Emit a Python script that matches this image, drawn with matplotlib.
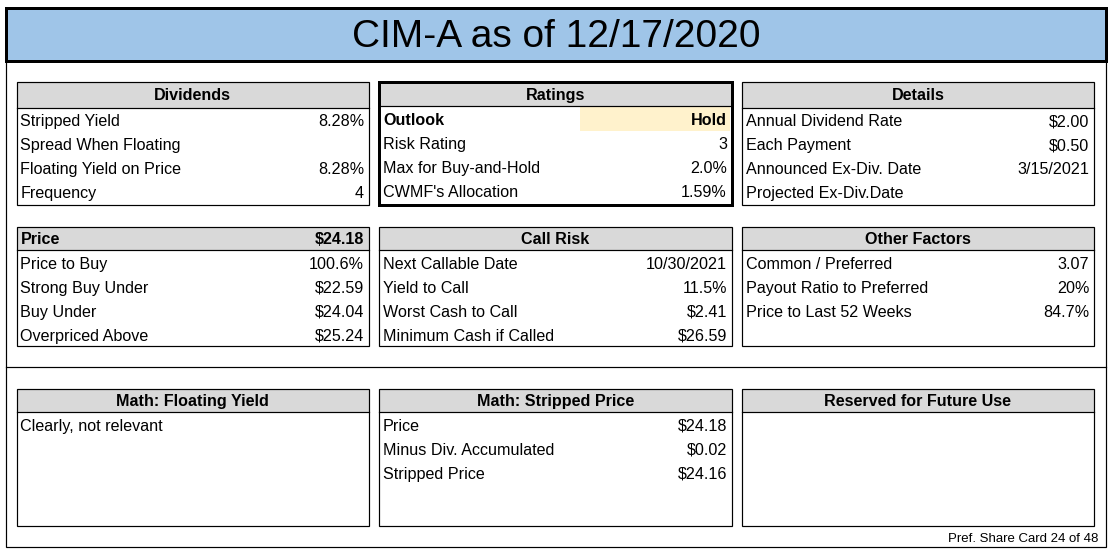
import matplotlib
matplotlib.use("Agg")
import matplotlib.pyplot as plt
from matplotlib.patches import Rectangle

plt.rcParams['font.family'] = ['Liberation Sans', 'DejaVu Sans']

title = "CIM-A as of 12/17/2020"
footer = "Pref. Share Card 24 of 48"

div_labels = ["Stripped Yield", "Spread When Floating", "Floating Yield on Price", "Frequency"]
div_values = ["8.28%", "", "8.28%", "4"]

rat_labels = ["Outlook", "Risk Rating", "Max for Buy-and-Hold", "CWMF's Allocation"]
rat_values = ["Hold", "3", "2.0%", "1.59%"]

det_labels = ["Annual Dividend Rate", "Each Payment", "Announced Ex-Div. Date", "Projected Ex-Div.Date"]
det_values = ["$2.00", "$0.50", "3/15/2021", ""]

price_value = "$24.18"
price_labels = ["Price to Buy", "Strong Buy Under", "Buy Under", "Overpriced Above"]
price_values = ["100.6%", "$22.59", "$24.04", "$25.24"]

call_labels = ["Next Callable Date", "Yield to Call", "Worst Cash to Call", "Minimum Cash if Called"]
call_values = ["10/30/2021", "11.5%", "$2.41", "$26.59"]

oth_labels = ["Common / Preferred", "Payout Ratio to Preferred", "Price to Last 52 Weeks"]
oth_values = ["3.07", "20%", "84.7%"]

mfy_labels = ["Clearly, not relevant"]
mfy_values = [""]

msp_labels = ["Price", "Minus Div. Accumulated", "Stripped Price"]
msp_values = ["$24.18", "$0.02", "$24.16"]

res_labels = []
res_values = []

W, H = 1112, 554
fig = plt.figure(figsize=(W / 100, H / 100), dpi=100)
ax = fig.add_axes([0, 0, 1, 1])
ax.set_xlim(0, W)
ax.set_ylim(H, 0)
ax.axis('off')

PX = 0.72  # 1 px in points
GRAY = '#D9D9D9'
FS = 11.6

# outer frame
ax.add_patch(Rectangle((5.5, 35), 1100, 512, fill=False, ec='black', lw=1.2 * PX))
ax.plot([5.5, 1105.5], [367, 367], color='black', lw=1.2 * PX)
# title
ax.add_patch(Rectangle((5.5, 7.5), 1100, 53.5, fc='#9FC5E8', ec='black', lw=3 * PX, zorder=3))
ax.text(556, 47, title, ha='center', va='baseline', fontsize=28, zorder=4)


def card(x0, x1, y0, y1, hdr_h, header, labels, values, thick=False,
         left_header=None, highlight_first=False):
    ax.add_patch(Rectangle((x0, y0), x1 - x0, hdr_h, fc=GRAY, ec='none', zorder=1))
    ax.plot([x0, x1], [y0 + hdr_h, y0 + hdr_h], color='black', lw=1.2 * PX, zorder=3)
    hb = y0 + hdr_h / 2 + 6
    if left_header is not None:
        ax.text(x0 + 4, hb, header, ha='left', va='baseline',
                fontsize=FS, fontweight='bold', zorder=4)
        ax.text(x1 - 4.5, hb, left_header, ha='right', va='baseline',
                fontsize=FS, fontweight='bold', zorder=4)
    else:
        ax.text((x0 + x1) / 2, hb, header, ha='center', va='baseline',
                fontsize=FS, fontweight='bold', zorder=4)
    for i, (lab, val) in enumerate(zip(labels, values)):
        yc = y0 + hdr_h + 12.5 + 24 * i
        bold = highlight_first and i == 0
        if bold:
            ax.add_patch(Rectangle((580, yc - 11.5), x1 - 580 - 1.5, 24, fc='#FFF2CC',
                                   ec='none', zorder=1))
        ax.text(x0 + 4, yc + 6.2, lab, ha='left', va='baseline', fontsize=FS,
                fontweight='bold' if bold else 'normal', zorder=4)
        if val:
            ax.text(x1 - 4.5, yc + 6.2, val, ha='right', va='baseline', fontsize=FS,
                    fontweight='bold' if bold else 'normal', zorder=4)
    ax.add_patch(Rectangle((x0, y0), x1 - x0, y1 - y0, fill=False, ec='black',
                           lw=(3 if thick else 1.2) * PX, zorder=5))


cols = [(16.5, 368.5), (379, 731.5), (742, 1094)]

card(*cols[0], 81.5, 205, 26, "Dividends", div_labels, div_values)
card(*cols[1], 81.5, 205, 24.5, "Ratings", rat_labels, rat_values, thick=True,
     highlight_first=True)
card(*cols[2], 81.5, 205, 26, "Details", det_labels, det_values)

card(*cols[0], 226.5, 346, 23.5, "Price", price_labels, price_values, left_header=price_value)
card(*cols[1], 226.5, 346, 23.5, "Call Risk", call_labels, call_values)
card(*cols[2], 226.5, 346, 23.5, "Other Factors", oth_labels, oth_values)

card(*cols[0], 388.5, 526, 23.5, "Math: Floating Yield", mfy_labels, mfy_values)
card(*cols[1], 388.5, 526, 23.5, "Math: Stripped Price", msp_labels, msp_values)
card(*cols[2], 388.5, 526, 23.5, "Reserved for Future Use", res_labels, res_values)

ax.text(1098, 541.5, footer, ha='right', va='baseline', fontsize=9.5)

fig.savefig("out.png", dpi=100)
